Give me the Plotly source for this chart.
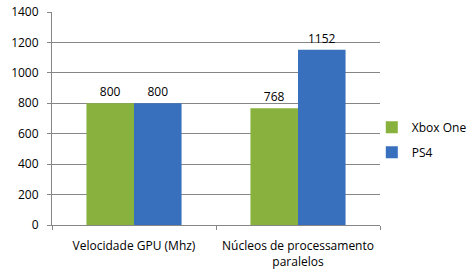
import plotly.graph_objects as go

categories = ["Velocidade GPU (Mhz)", "Núcleos de processamento<br>paralelos"]
xbox_one = [800, 768]
ps4 = [800, 1152]
y_ticks = [0, 200, 400, 600, 800, 1000, 1200, 1400]

font_family = "Open Sans, Noto Sans, sans-serif"

fig = go.Figure()
fig.add_trace(go.Bar(
    name="Xbox One", x=categories, y=xbox_one, legendgroup="a",
    marker=dict(color="#88B23D", line=dict(width=0)),
    text=[str(v) for v in xbox_one], textposition="outside",
    textfont=dict(size=12, color="#000000"), cliponaxis=False,
))
fig.add_trace(go.Bar(
    name="PS4", x=categories, y=ps4, legendgroup="b",
    marker=dict(color="#3870BE", line=dict(width=0)),
    text=[str(v) for v in ps4], textposition="outside",
    textfont=dict(size=12, color="#000000"), cliponaxis=False,
))

fig.update_layout(
    width=473, height=279,
    margin=dict(l=52, r=93, t=12, b=54, autoexpand=False),
    paper_bgcolor="white", plot_bgcolor="white",
    barmode="group", bargap=0.42, bargroupgap=0,
    font=dict(family=font_family, size=12, color="#000000"),
    legend=dict(x=0.975, y=0.4, xanchor="left", yanchor="middle",
                font=dict(size=12), itemwidth=30, tracegroupgap=6,
                traceorder="grouped", bgcolor="rgba(0,0,0,0)"),
    showlegend=True,
)
fig.update_yaxes(
    range=[0, 1400], tickvals=y_ticks, ticktext=[str(v) for v in y_ticks],
    showgrid=True, gridcolor="#868686", gridwidth=1,
    showline=True, linecolor="#868686", linewidth=1,
    ticks="outside", ticklen=4, tickcolor="#868686",
    zeroline=False, tickfont=dict(size=12), automargin=False,
    ticklabelstandoff=6,
)
fig.update_xaxes(
    showline=True, linecolor="#868686", linewidth=1,
    ticks="outside", ticklen=4, tickcolor="#868686",
    tickson="boundaries", showgrid=False, tickfont=dict(size=12),
    automargin=False, ticklabelstandoff=10,
)

fig.write_html("out.html", config={"displayModeBar": False},
               post_script="document.body.style.margin='0';")
